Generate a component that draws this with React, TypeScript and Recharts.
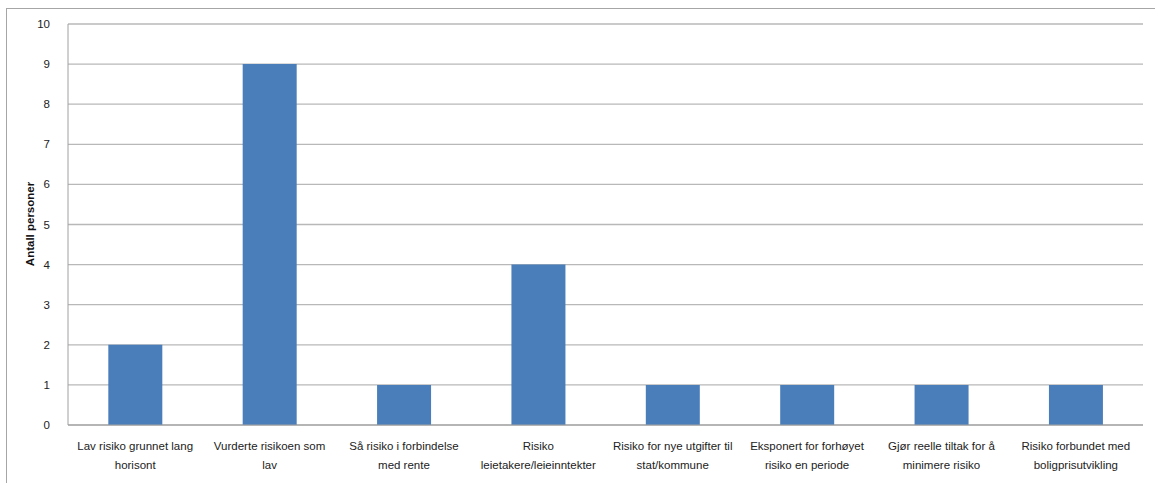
import React from 'react';
import {BarChart, Bar, XAxis, YAxis, CartesianGrid} from 'recharts';

const categoryLines: string[][] = [
    ['Lav risiko grunnet lang', 'horisont'],
    ['Vurderte risikoen som', 'lav'],
    ['Så risiko i forbindelse', 'med rente'],
    ['Risiko', 'leietakere/leieinntekter'],
    ['Risiko for nye utgifter til', 'stat/kommune'],
    ['Eksponert for forhøyet', 'risiko en periode'],
    ['Gjør reelle tiltak for å', 'minimere risiko'],
    ['Risiko forbundet med', 'boligprisutvikling'],
];
const categories = categoryLines.map((l) => l.join(' '));
const values = [2, 9, 1, 4, 1, 1, 1, 1];
const yTicks = [0, 1, 2, 3, 4, 5, 6, 7, 8, 9, 10];

const data = categories.map((name, i) => ({name, value: values[i]}));

const FONT = '"Liberation Sans", Arial, sans-serif';

const CategoryTick = (props: any) => {
    const {x, y, index} = props;
    const lines = categoryLines[index] || [];
    return (
        <g transform={`translate(${x},${y})`}>
            {lines.map((line, i) => (
                <text key={i} x={0} y={17 + i * 19} textAnchor="middle" fontSize={11.5}
                      fontFamily={FONT} fill="#222">
                    {line}
                </text>
            ))}
        </g>
    );
};

const App: React.FC = () => {
    return (
        <div style={{position: 'absolute', left: 0, top: 0, width: 1155, height: 483, background: '#fff'}}>
            <svg width={1155} height={483} style={{position: 'absolute', left: 0, top: 0}}>
                <rect x={6.5} y={8.5} width={1200} height={500} fill="none" stroke="#a6a6a6" strokeWidth={1}/>
                <text transform="translate(34,224) rotate(-90)" textAnchor="middle" fontSize={11.5}
                      fontWeight="bold" fontFamily={FONT} fill="#111">
                    Antall personer
                </text>
            </svg>
            <div style={{position: 'absolute', left: 0, top: 0}}>
                <BarChart
                    width={1155}
                    height={483}
                    data={data}
                    margin={{top: 24, right: 12, left: 20, bottom: 0}}
                    barCategoryGap="30%"
                >
                    <CartesianGrid vertical={false} stroke="#b8b8b8" strokeWidth={1.3}/>
                    <XAxis dataKey="name" height={58} interval={0} tick={<CategoryTick/>}
                           axisLine={{stroke: '#a0a0a0'}} tickLine={false}/>
                    <YAxis width={48} domain={[0, 10]} ticks={yTicks} interval={0}
                           axisLine={{stroke: '#a0a0a0'}} tickLine={false}
                           tick={{fontSize: 11.5, fontFamily: FONT, fill: '#222'}}
                           tickMargin={12}/>
                    <Bar dataKey="value" fill="#4a7ebb" isAnimationActive={false}/>
                </BarChart>
            </div>
        </div>
    );
};

export default App;
